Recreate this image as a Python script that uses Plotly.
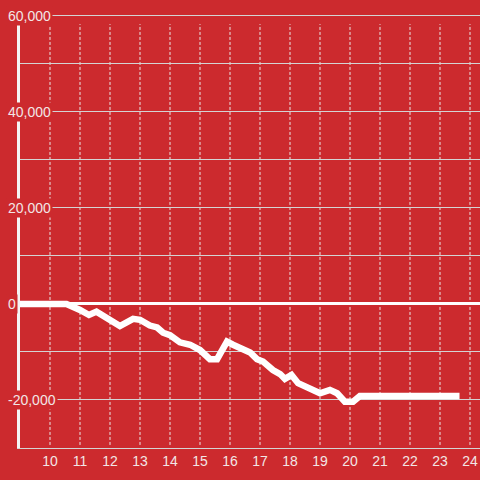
import plotly.graph_objects as go

# data
x_vals = [9.0, 10.55, 11.0, 11.3, 11.55, 12.33, 12.77, 13.0, 13.33, 13.57, 13.77, 14.0,
          14.33, 14.67, 15.0, 15.33, 15.57, 15.9, 16.1, 16.43, 16.67, 16.9, 17.1, 17.43,
          17.67, 17.83, 18.05, 18.27, 18.55, 19.0, 19.33, 19.57, 19.83, 20.1, 20.33, 23.65]
y_vals = [0, 0, -1250, -2300, -1600, -4600, -3100, -3300, -4500, -4900, -6000, -6500,
          -8000, -8500, -9600, -11500, -11500, -7850, -8500, -9600, -10100, -11500, -12000, -13750,
          -14600, -15600, -14800, -16500, -17200, -18600, -17900, -18600, -20350, -20350, -19150, -19150]

x_ticks = list(range(10, 25))
y_label_vals = [60000, 40000, 20000, 0, -20000]
y_label_text = ["60,000", "40,000", "20,000", "0", "-20,000"]

BG = "#cc2a2e"
TXT = "#f2e6e6"
GRID = "#d4d4d4"
FONT = "Liberation Sans"

fig = go.Figure()
fig.add_trace(go.Scatter(x=x_vals, y=y_vals, mode="lines",
                         line=dict(color="white", width=6.5, shape="linear"),
                         hoverinfo="skip", showlegend=False))

# dotted vertical grid lines
for t in x_ticks:
    fig.add_shape(type="line", xref="x", yref="paper", x0=t, x1=t, y0=0.007, y1=0.97,
                  line=dict(color="#e8e8e8", width=1, dash="3px,2px"), layer="below")

# y labels with background that covers axis / grid lines
for v, s in zip(y_label_vals, y_label_text):
    fig.add_annotation(x=0, xref="paper", y=v, yref="y", text=s, showarrow=False,
                       xanchor="left", xshift=-14, bgcolor=BG, borderpad=1,
                       font=dict(family=FONT, size=14, color=TXT))

fig.update_layout(
    width=480, height=480,
    margin=dict(l=20, r=0, t=11, b=32),
    paper_bgcolor=BG, plot_bgcolor=BG,
    showlegend=False,
    font=dict(family=FONT, size=14, color=TXT),
)
fig.update_xaxes(range=[9, 24.333], tickvals=x_ticks, ticktext=[str(t) for t in x_ticks],
                 showgrid=False, zeroline=False, showline=True, linecolor=GRID, linewidth=1,
                 ticks="", tickfont=dict(family=FONT, size=14, color=TXT))
fig.update_yaxes(range=[-30000, 61000], dtick=10000, tick0=0, showticklabels=False,
                 showgrid=True, gridcolor=GRID, gridwidth=1,
                 zeroline=True, zerolinecolor="white", zerolinewidth=3,
                 showline=True, linecolor="#f4f4f4", linewidth=3, ticks="")

fig.write_html("out.html", config={"displayModeBar": False},
               post_script="document.body.style.margin='0';document.body.style.overflow='hidden';")
